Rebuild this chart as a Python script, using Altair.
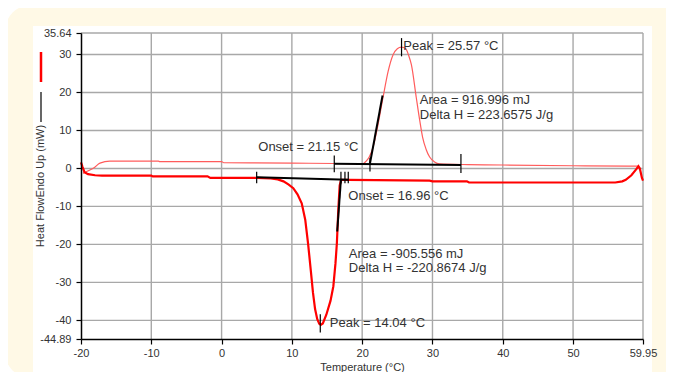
import altair as alt
import pandas as pd

FONT = "Liberation Sans"

# Cooling run (thick red)
cool_x = [-20.0, -19.8, -19.5, -19.0, -18.0, -17.0, -15.0, -10.0, -9.8, -2.0, -1.6, 5.0, 7.0, 8.0, 8.8,
          9.5, 10.2, 10.8, 11.4, 11.9, 12.3, 12.7, 13.0, 13.3, 13.6, 13.9, 14.1, 14.4, 14.9, 15.5, 15.9,
          16.2, 16.4, 16.6, 16.8, 17.0, 18.0, 22.0, 29.6, 30.0, 34.9, 35.2, 45.0, 56.0, 57.0,
          57.5, 58.3, 59.0, 59.3, 59.5, 59.8, 59.95]
cool_y = [1.6, 0.5, -1.0, -1.5, -1.8, -1.9, -1.9, -1.9, -2.1, -2.1, -2.5, -2.5, -2.6, -2.9, -3.4,
          -4.2, -5.2, -6.8, -9.2, -13.5, -19.7, -27.0, -32.7, -37.0, -39.6, -40.9, -41.2, -40.8, -38.5, -34.8, -31.0,
          -25.0, -19.7, -11.0, -4.5, -3.0, -3.0, -3.1, -3.2, -3.4, -3.4, -3.7, -3.7, -3.7, -3.4,
          -3.0, -1.8, -0.2, 0.6, 0.0, -2.5, -3.2]

# Heating run (thin light red)
heat_x = [-19.7, -19.2, -18.2, -17.3, -15.9, -9.0, -8.8, 0.0, 0.3, 10.0, 16.0, 20.0, 20.6, 21.0,
          21.55, 22.2, 22.96, 23.7, 24.4, 25.0, 25.57, 26.2, 26.6, 27.0, 27.7, 28.2, 28.6, 29.1,
          29.6, 30.3, 31.0, 35.0, 40.0, 50.0, 58.0, 59.3]
heat_y = [-1.3, -0.8, 0.1, 1.4, 1.9, 1.9, 1.8, 1.8, 1.5, 1.4, 1.3, 1.2, 2.0, 3.0,
          5.6, 11.0, 18.6, 25.6, 29.9, 31.5, 31.9, 31.5, 29.8, 27.3, 18.6, 12.5, 8.2, 5.0,
          3.0, 1.7, 1.2, 1.0, 0.9, 0.7, 0.6, 0.6]

# Analysis lines (baselines and onset tangents)
seg_x1 = [16.03, 21.11, 4.99, 16.98]
seg_y1 = [1.25, 1.3, -2.3, -2.8]
seg_x2 = [34.05, 22.9, 18.02, 16.45]
seg_y2 = [0.9, 19.2, -3.0, -16.6]

# Small vertical markers
tick_x = [16.03, 21.11, 34.05, 25.6, 4.99, 16.98, 17.55, 18.02, 14.04]
tick_y1 = [3.4, 2.8, 3.8, 34.3, -0.9, -0.9, -0.9, -0.9, -38.4]
tick_y2 = [-1.0, -0.8, -1.2, 29.5, -3.9, -3.9, -3.9, -3.9, -43.2]

# Annotation texts
ann_text = ["Peak = 25.57 °C", "Area = 916.996 mJ", "Delta H = 223.6575 J/g", "Onset = 21.15 °C",
            "Onset = 16.96 °C", "Area = -905.556 mJ", "Delta H = -220.8674 J/g", "Peak = 14.04 °C"]
ann_x = [25.85, 28.2, 28.2, 5.22, 18.03, 18.1, 18.1, 15.4]
ann_y = [32.1, 18.1, 14.1, 5.6, -7.2, -22.6, -26.3, -40.6]

x_ticks = [-20, -10, 0, 10, 20, 30, 40, 50, 59.95]
y_ticks = [-44.89, -40, -30, -20, -10, 0, 10, 20, 30, 35.64]
x_grid = [-10, 0, 10, 20, 30, 40, 50, 59.95]
y_grid = [-40, -30, -20, -10, 0, 10, 20, 30, 35.64]

xs = alt.Scale(domain=[-20, 59.95], nice=False, zero=False)
ys = alt.Scale(domain=[-44.89, 35.64], nice=False, zero=False)

xaxis = alt.Axis(values=x_ticks, labelExpr="datum.value + ''", grid=False, domainColor="#000",
                 domainWidth=1.5, tickColor="#000", tickSize=5, tickWidth=1.2, labelFont=FONT,
                 labelFontSize=11, labelColor="#333", labelPadding=3, labelFlush=False,
                 labelOverlap=False, title="Temperature (°C)", titleFont=FONT, titleFontSize=11,
                 titleFontWeight="normal", titleColor="#333", titlePadding=3, zindex=1)
yaxis = alt.Axis(values=y_ticks, labelExpr="datum.value + ''", grid=False, domainColor="#000",
                 domainWidth=1.5, tickColor="#000", tickSize=5, tickWidth=1.2, labelFont=FONT,
                 labelFontSize=11, labelColor="#333", labelPadding=5, labelFlush=False,
                 labelOverlap=False, title=None, zindex=1)


def X(f):
    return alt.X(f, type="quantitative", scale=xs, axis=xaxis)


def Y(f):
    return alt.Y(f, type="quantitative", scale=ys, axis=yaxis)


one = pd.DataFrame({"k": [0]})

bg_outer = alt.Chart(one).mark_rect(color="#FFF9E6", cornerRadius=26).encode(
    x=alt.value(-76), x2=alt.value(610), y=alt.value(-28), y2=alt.value(345))
bg_inner = alt.Chart(one).mark_rect(color="#FFFFFF").encode(
    x=alt.value(-48), x2=alt.value(571), y=alt.value(-7), y2=alt.value(345))

vgrid = alt.Chart(pd.DataFrame({"gx": x_grid})).mark_rule(color="#A8A8A8", strokeWidth=1.4).encode(x=X("gx"))
hgrid = alt.Chart(pd.DataFrame({"gy": y_grid})).mark_rule(color="#A8A8A8", strokeWidth=1.4).encode(y=Y("gy"))

heat_df = pd.DataFrame({"t": heat_x, "h": heat_y, "i": range(len(heat_x))})
cool_df = pd.DataFrame({"t": cool_x, "h": cool_y, "i": range(len(cool_x))})

heat = alt.Chart(heat_df).mark_line(color="#FF5C5C", strokeWidth=1.2, interpolate="monotone").encode(
    x=X("t"), y=Y("h"), order="i:Q")
cool = alt.Chart(cool_df).mark_line(color="#FF0000", strokeWidth=2.2).encode(
    x=X("t"), y=Y("h"), order="i:Q")

seg_df = pd.DataFrame({"a": seg_x1, "b": seg_y1, "c": seg_x2, "d": seg_y2})
segs = alt.Chart(seg_df).mark_rule(color="#000", strokeWidth=2).encode(
    x=X("a"), y=Y("b"), x2="c", y2="d")

tick_df = pd.DataFrame({"a": tick_x, "b": tick_y1, "d": tick_y2})
ticks = alt.Chart(tick_df).mark_rule(color="#000", strokeWidth=1.2).encode(
    x=X("a"), y=Y("b"), y2="d")

ann_df = pd.DataFrame({"s": ann_text, "a": ann_x, "b": ann_y})
ann = alt.Chart(ann_df).mark_text(align="left", baseline="middle", font=FONT, fontSize=13,
                                  color="#333").encode(x=X("a"), y=Y("b"), text="s")

leg_red = alt.Chart(one).mark_rule(color="#FF0000", strokeWidth=2.5).encode(
    x=alt.value(-40), y=alt.value(19), y2=alt.value(49))
leg_black = alt.Chart(one).mark_rule(color="#000", strokeWidth=1.2).encode(
    x=alt.value(-40), y=alt.value(59), y2=alt.value(89))
ytitle = alt.Chart(pd.DataFrame({"s": ["Heat FlowEndo Up (mW)"]})).mark_text(
    angle=270, align="center", baseline="middle", font=FONT, fontSize=11, color="#333").encode(
    x=alt.value(-40), y=alt.value(153), text="s")

chart = alt.layer(bg_outer, bg_inner, vgrid, hgrid, heat, cool, segs, ticks, ann,
                  leg_red, leg_black, ytitle).properties(
    width=562, height=306,
    padding={"left": 73, "top": 25, "right": 23, "bottom": 33},
    autosize=alt.AutoSizeParams(type="none"),
    background="#FFFFFF",
).configure_view(stroke=None)

chart.save("out.html", embed_options={"renderer": "svg", "actions": False})
